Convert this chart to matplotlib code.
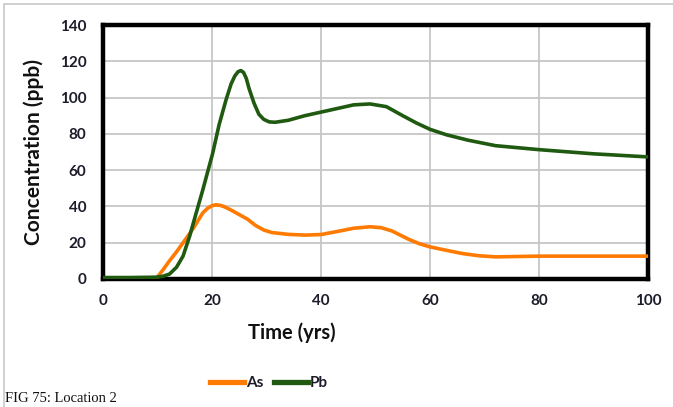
import matplotlib.pyplot as plt
from matplotlib.patches import Rectangle
from matplotlib.lines import Line2D

# As series
as_x = [0, 5, 9.8, 11, 12.2, 13.5, 14.7, 16.5, 17.5, 18.3, 19.2, 20, 20.7, 21.5, 22.3, 23.5, 25, 26.5, 28,
        29.5, 31, 34, 37, 40, 43.5, 46, 49, 51, 53, 56, 58, 60, 63, 66, 69, 72, 76, 80, 90, 100]
as_y = [0.3, 0.3, 0.3, 5, 10, 15, 20, 27.6, 32.5, 36.4, 39, 40.4, 40.9, 40.6, 39.8, 38, 35.5, 33, 29.5,
        27, 25.6, 24.6, 24.2, 24.5, 26.5, 28, 28.8, 28.3, 26.5, 22, 19.5, 17.7, 15.8, 14, 12.8, 12.2, 12.4, 12.6, 12.6, 12.6]

# Pb series
pb_x = [0, 5, 9.8, 11, 12.2, 13.5, 14.7, 15.9, 17.1, 18.3, 20.1, 21.3, 22.6, 23.5, 24.2, 24.8, 25.3, 25.8,
        26.3, 26.8, 27.7, 28.6, 29.5, 30.5, 31.6, 34, 37, 40, 43, 46, 49, 52, 55, 57.5, 60, 63, 67, 72, 80, 90, 100]
pb_y = [0.8, 0.8, 1, 1.5, 2.7, 6.5, 12.7, 23.6, 36.4, 49, 69, 85, 99, 107.5, 112, 114.3, 114.9, 113.8,
        110.5, 105, 97, 90.8, 88, 86.6, 86.4, 87.5, 90, 92, 94, 96, 96.5, 95, 90, 86, 82.5, 79.5, 76.5, 73.5, 71.3, 69, 67.3]

x_ticks = [0, 20, 40, 60, 80, 100]
y_ticks = [0, 20, 40, 60, 80, 100, 120, 140]

fnt = ['Lato', 'DejaVu Sans']
tick_col = '#1c1c2a'
c_as = '#ff7a00'
c_pb = '#1f5a10'

fig = plt.figure(figsize=(6.73, 4.07), dpi=100)
ax = fig.add_axes([0.153, 0.3145, 0.81, 0.624])

ax.plot(as_x, as_y, color=c_as, lw=2.6, solid_capstyle='round', solid_joinstyle='round', zorder=3)
ax.plot(pb_x, pb_y, color=c_pb, lw=2.6, solid_capstyle='round', solid_joinstyle='round', zorder=4)

ax.set_xlim(0, 100)
ax.set_ylim(0, 140)
ax.set_xticks(x_ticks)
ax.set_yticks(y_ticks)
ax.grid(True, color='#c6c6c6', lw=1.3)
ax.set_axisbelow(True)
for s in ax.spines.values():
    s.set_linewidth(3.2)
    s.set_color('black')
ax.tick_params(axis='y', length=0, pad=12)
ax.tick_params(axis='x', length=0, pad=11)
for lab in ax.get_xticklabels() + ax.get_yticklabels():
    lab.set_family(fnt)
    lab.set_fontweight('bold')
    lab.set_fontsize(11)
    lab.set_color(tick_col)

ax.set_xlabel('Time (yrs)', family=fnt, fontweight='bold', fontsize=14.5, color='#111111')
ax.xaxis.set_label_coords(0.347, -0.17)
ax.set_ylabel('Concentration (ppb)', family=fnt, fontweight='bold', fontsize=15, color='#111111', labelpad=11)

handles = [Line2D([], [], color=c_as, lw=3.8), Line2D([], [], color=c_pb, lw=3.8)]
leg = fig.legend(handles, ['As', 'Pb'], loc='center', bbox_to_anchor=(0.40, 0.058), ncol=2,
                 frameon=False, handlelength=2.2, handletextpad=0.15, columnspacing=0.7,
                 prop={'family': fnt, 'weight': 'bold', 'size': 11})
for t in leg.get_texts():
    t.set_color(tick_col)

# light border round the chart area
fig.add_artist(Rectangle((4 / 673, -0.1), 1.2, 1 - 4.5 / 407 + 0.1, transform=fig.transFigure,
                         fill=False, edgecolor='#c8c8c8', lw=1.2))

fig.text(5 / 673, 1 - 398 / 407, 'FIG 75: Location 2', family=['Liberation Serif', 'DejaVu Serif'],
         fontsize=10.5, va='center', ha='left', color='#111111')

fig.savefig('out.png', dpi=100)
